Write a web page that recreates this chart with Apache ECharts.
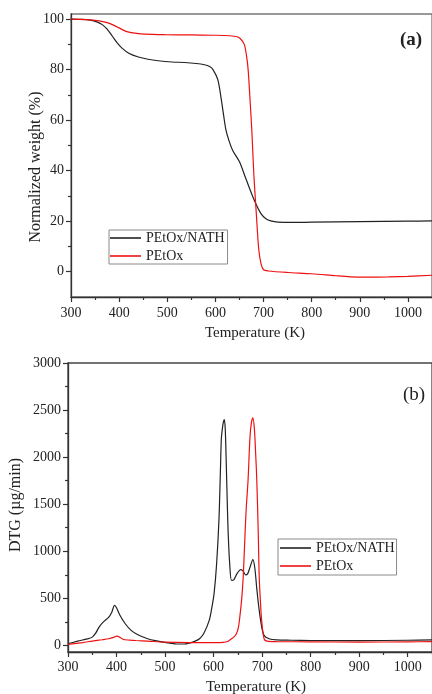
<!DOCTYPE html>
<html>
<head>
<meta charset="utf-8">
<script src="https://cdn.jsdelivr.net/npm/echarts@6/dist/echarts.min.js"></script>
<style>
html,body{margin:0;padding:0;background:#fff;}
#c{width:432px;height:694px;}
</style>
</head>
<body>
<div id="c"></div>
<script>
// ---------- Data ----------
var seriesNames = ['PEtOx/NATH', 'PEtOx'];

// (a) TGA – normalized weight (%)
var tgaNathTemp = [300,320,340,355,365,375,386,396,406,420,440,460,481,510,536,560,577,588,595,605,612,617,622,628,636,650,663,681,695,705,715,730,760,800,900,1000,1050];
var tgaNathVal  = [100,99.9,99.6,98.8,97.8,96,93.2,90.6,88.5,86.5,85,84.1,83.5,83,82.8,82.4,81.9,81.2,80,76,68.5,62,56,52,48,43.5,37,28.2,22.9,21,20.1,19.6,19.5,19.6,19.8,20,20.1];

var tgaPetoxTemp = [300,330,359,375,386,400,413,425,440,470,495,550,595,630,645,652,660,665,668,672,676,680,685,690,695,700,710,750,800,850,880,920,960,1000,1050];
var tgaPetoxVal  = [100,99.8,99.3,98.6,97.8,96.5,95.2,94.6,94.2,93.9,93.8,93.7,93.6,93.4,93,92.2,90,85,80,68,54.6,38,23,9,3,0.8,0.3,-0.3,-0.8,-1.6,-2,-2.1,-2,-1.8,-1.4];

// (b) DTG (µg/min)
var dtgNathTemp = [300,320,340,350,357,364,372,384,390,396,400,407,418,430,445,464,480,497,510,524,540,550,562,571,580,591,596,601,606,611,614,616,618,620,622,624,626,628,630,633,637,642,648,656,661,666,670,675,681,685,689,694,699,704,714,730,760,800,900,1000,1050];
var dtgNathVal  = [18,45,70,88,130,195,245,300,350,425,400,320,230,160,110,71,50,35,25,15,15,25,45,71,130,266,390,553,850,1330,1850,2200,2300,2370,2400,2300,1950,1550,1200,880,690,700,760,805,790,750,760,830,912,820,600,372,200,106,71,58,55,52,50,55,58];

var dtgPetoxTemp = [300,330,350,370,384,394,401,408,417,440,464,498,550,600,620,630,637,642,647,651,654,658,661,664,667,671,675,678,681,684,687,689,692,694,697,699,704,710,730,800,900,1000,1050];
var dtgPetoxVal  = [10,30,46,60,71,85,99,82,60,52,46,35,30,30,32,45,71,90,124,190,300,500,727,1085,1436,1755,2216,2370,2418,2300,2000,1755,1200,727,420,266,71,45,40,38,35,38,40];

// Tick labels
var xTicks = [300,400,500,600,700,800,900,1000];
var xMinor = [350,450,550,650,750,850,950,1050];
var yTicksA = [0,20,40,60,80,100];
var yMinorA = [10,30,50,70,90];
var yTicksB = [0,500,1000,1500,2000,2500,3000];
var yMinorB = [250,750,1250,1750,2250,2750];

function pairs(xs, ys){ return xs.map(function(x,i){ return [x, ys[i]]; }); }

// ---------- Chart ----------
var FONT = "'Liberation Serif','Times New Roman',serif";
var AX = '#333';
var BLACK = '#222';
var RED = '#ee1111';
function plain(v){ return String(v); }

function mainX(grid, min, max, margin){
  return {
    type:'value', gridIndex:grid, min:min, max:max, position:'bottom',
    axisLine:{show:true, onZero:false, lineStyle:{color:AX, width:1.3}},
    axisTick:{show:true, inside:false, length:5, customValues:xTicks, lineStyle:{color:AX, width:1.2}},
    axisLabel:{show:true, customValues:xTicks, formatter:plain, margin:margin, fontFamily:FONT, fontSize:14, color:'#222'},
    splitLine:{show:false}
  };
}
function minorX(grid, min, max){
  return {
    type:'value', gridIndex:grid, min:min, max:max, position:'bottom',
    axisLine:{show:false, onZero:false},
    axisTick:{show:true, inside:false, length:3, customValues:xMinor, lineStyle:{color:AX, width:1.2}},
    axisLabel:{show:false},
    splitLine:{show:false}
  };
}
function mainY(grid, min, max, ticks){
  return {
    type:'value', gridIndex:grid, min:min, max:max, position:'left',
    axisLine:{show:true, onZero:false, lineStyle:{color:AX, width:1.3}},
    axisTick:{show:true, inside:false, length:5, customValues:ticks, lineStyle:{color:AX, width:1.2}},
    axisLabel:{show:true, customValues:ticks, formatter:plain, margin:7, fontFamily:FONT, fontSize:14, color:'#222'},
    splitLine:{show:false}
  };
}
function minorY(grid, min, max, ticks){
  return {
    type:'value', gridIndex:grid, min:min, max:max, position:'left',
    axisLine:{show:false, onZero:false},
    axisTick:{show:true, inside:false, length:3, customValues:ticks, lineStyle:{color:AX, width:1.2}},
    axisLabel:{show:false},
    splitLine:{show:false}
  };
}
function line(name, data, color, xi, yi){
  return {
    type:'line', name:name, data:data, xAxisIndex:xi, yAxisIndex:yi,
    symbol:'none', showSymbol:false, smooth:0.3, clip:true,
    lineStyle:{color:color, width:1.2},
    itemStyle:{color:color}
  };
}
function legend(left, top, pad){
  return {
    orient:'vertical', left:left, top:top, data:seriesNames,
    icon:'rect', itemWidth:31, itemHeight:1.6, itemGap:2, padding:pad,
    borderColor:'#8a8a8a', borderWidth:1, backgroundColor:'#fff',
    selectedMode:false,
    textStyle:{fontFamily:FONT, fontSize:14, color:'#222', lineHeight:16}
  };
}
function vtext(x, y, txt, size){
  return {type:'text', x:x, y:y, rotation:Math.PI/2,
    style:{text:txt, font:size+'px '+FONT, fill:'#222', align:'center', verticalAlign:'middle', textAlign:'center', textVerticalAlign:'middle'}};
}
function htext(x, y, txt, size, weight){
  return {type:'text', x:x, y:y,
    style:{text:txt, font:(weight||'normal')+' '+size+'px '+FONT, fill:'#222', align:'center', verticalAlign:'middle', textAlign:'center', textVerticalAlign:'middle'}};
}

var chart = echarts.init(document.getElementById('c'), null, {renderer:'canvas'});
chart.setOption({
  animation:false,
  backgroundColor:'#fff',
  grid:[
    {left:71, top:14, width:368.6, height:283, show:true, borderColor:'#777', borderWidth:1.3},
    {left:68, top:363, width:375, height:289, show:true, borderColor:'#444', borderWidth:1.3}
  ],
  xAxis:[ mainX(0,300,1050,9), minorX(0,300,1050), mainX(1,300,1050,8), minorX(1,300,1050) ],
  yAxis:[ mainY(0,-10,102,yTicksA), minorY(0,-10,102,yMinorA), mainY(1,-70,3000,yTicksB), minorY(1,-70,3000,yMinorB) ],
  legend:[ legend(109, 230, [0,3,0,1]), legend(278, 539, [1,2,1,2]) ],
  series:[
    line(seriesNames[0], pairs(tgaNathTemp, tgaNathVal), BLACK, 0, 0),
    line(seriesNames[1], pairs(tgaPetoxTemp, tgaPetoxVal), RED, 0, 0),
    line(seriesNames[0], pairs(dtgNathTemp, dtgNathVal), BLACK, 2, 2),
    line(seriesNames[1], pairs(dtgPetoxTemp, dtgPetoxVal), RED, 2, 2)
  ],
  graphic:[
    vtext(36, 167, 'Normalized weight (%)', 16),
    vtext(16, 505, 'DTG (\u00b5g/min)', 16),
    htext(255, 333, 'Temperature (K)', 15),
    htext(256, 687, 'Temperature (K)', 15),
    htext(411, 40, '(a)', 19, 'bold'),
    htext(414, 395, '(b)', 19)
  ]
});
</script>
</body>
</html>
